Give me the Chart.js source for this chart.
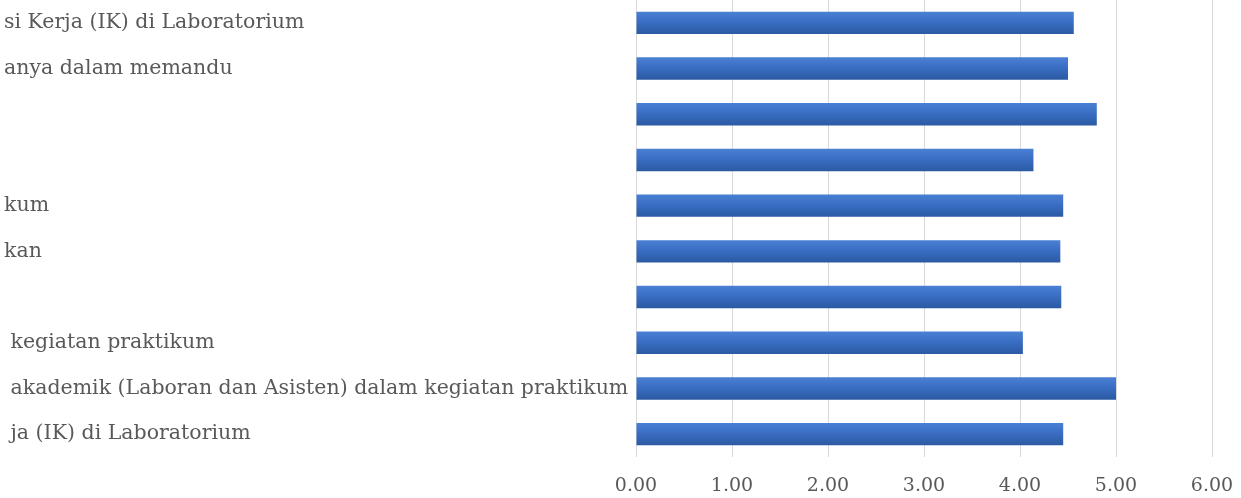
<!DOCTYPE html>
<html>
<head>
<meta charset="utf-8">
<script src="https://cdn.jsdelivr.net/npm/chart.js@4.4.1/dist/chart.umd.min.js"></script>
<style>
  html, body { margin: 0; padding: 0; background: #ffffff; }
  #wrap { position: relative; width: 1241px; height: 498px; }
</style>
</head>
<body>
<div id="wrap"><canvas id="chart"></canvas></div>
<script>
// category labels as they show in the cropped picture (left part cut off)
const categories = [
  "si Kerja (IK) di Laboratorium",
  "anya dalam memandu",
  "",
  "",
  "kum",
  "kan",
  "",
  " kegiatan praktikum",
  " akademik (Laboran dan Asisten) dalam kegiatan praktikum",
  " ja (IK) di Laboratorium"
];
const scores = [4.56, 4.50, 4.80, 4.14, 4.45, 4.42, 4.43, 4.03, 5.00, 4.45];
const xTicks = [0, 1, 2, 3, 4, 5, 6];

const barShare = 0.49;

function barGradient(ctx) {
  const chart = ctx.chart;
  const area = chart.chartArea;
  const yScale = chart.scales.y;
  if (!area || !yScale || ctx.dataIndex === undefined) {
    return "#3466b9";
  }
  const mid = yScale.getPixelForValue(ctx.dataIndex);
  const half = (area.bottom - area.top) / categories.length * barShare / 2;
  const g = chart.ctx.createLinearGradient(0, mid - half, 0, mid + half);
  g.addColorStop(0, "#4a80d4");
  g.addColorStop(0.45, "#3a6ec4");
  g.addColorStop(1, "#2b5aa2");
  return g;
}

new Chart(document.getElementById("chart"), {
  type: "bar",
  data: {
    labels: categories,
    datasets: [{
      data: scores,
      backgroundColor: barGradient,
      borderWidth: 0,
      barPercentage: barShare,
      categoryPercentage: 1
    }]
  },
  options: {
    indexAxis: "y",
    responsive: true,
    maintainAspectRatio: false,
    animation: false,
    layout: { padding: { left: 4, right: 29, top: 0, bottom: 0 } },
    plugins: {
      legend: { display: false },
      tooltip: { enabled: false }
    },
    scales: {
      x: {
        min: 0,
        max: 6,
        afterBuildTicks: (scale) => {
          scale.ticks = xTicks.map((v) => ({ value: v }));
        },
        afterFit: (scale) => {
          // fixed axis band under the plot, no extra side room for end labels
          scale.height = 41;
          scale.paddingLeft = 0;
          scale.paddingRight = 0;
        },
        border: { display: false },
        grid: { color: "#d9d9d9", lineWidth: 1, drawTicks: false },
        ticks: {
          padding: 18,
          color: "#595959",
          font: { family: "DejaVu Serif", size: 19 },
          callback: (v) => Number(v).toFixed(2)
        }
      },
      y: {
        border: { display: false },
        grid: { display: false, drawTicks: false },
        afterFit: (scale) => {
          scale.width = 632;
          scale.paddingTop = 0;
          scale.paddingBottom = 0;
        },
        ticks: {
          crossAlign: "far",
          autoSkip: false,
          color: "#595959",
          font: { family: "DejaVu Serif", size: 20.5 }
        }
      }
    }
  }
});
</script>
</body>
</html>
